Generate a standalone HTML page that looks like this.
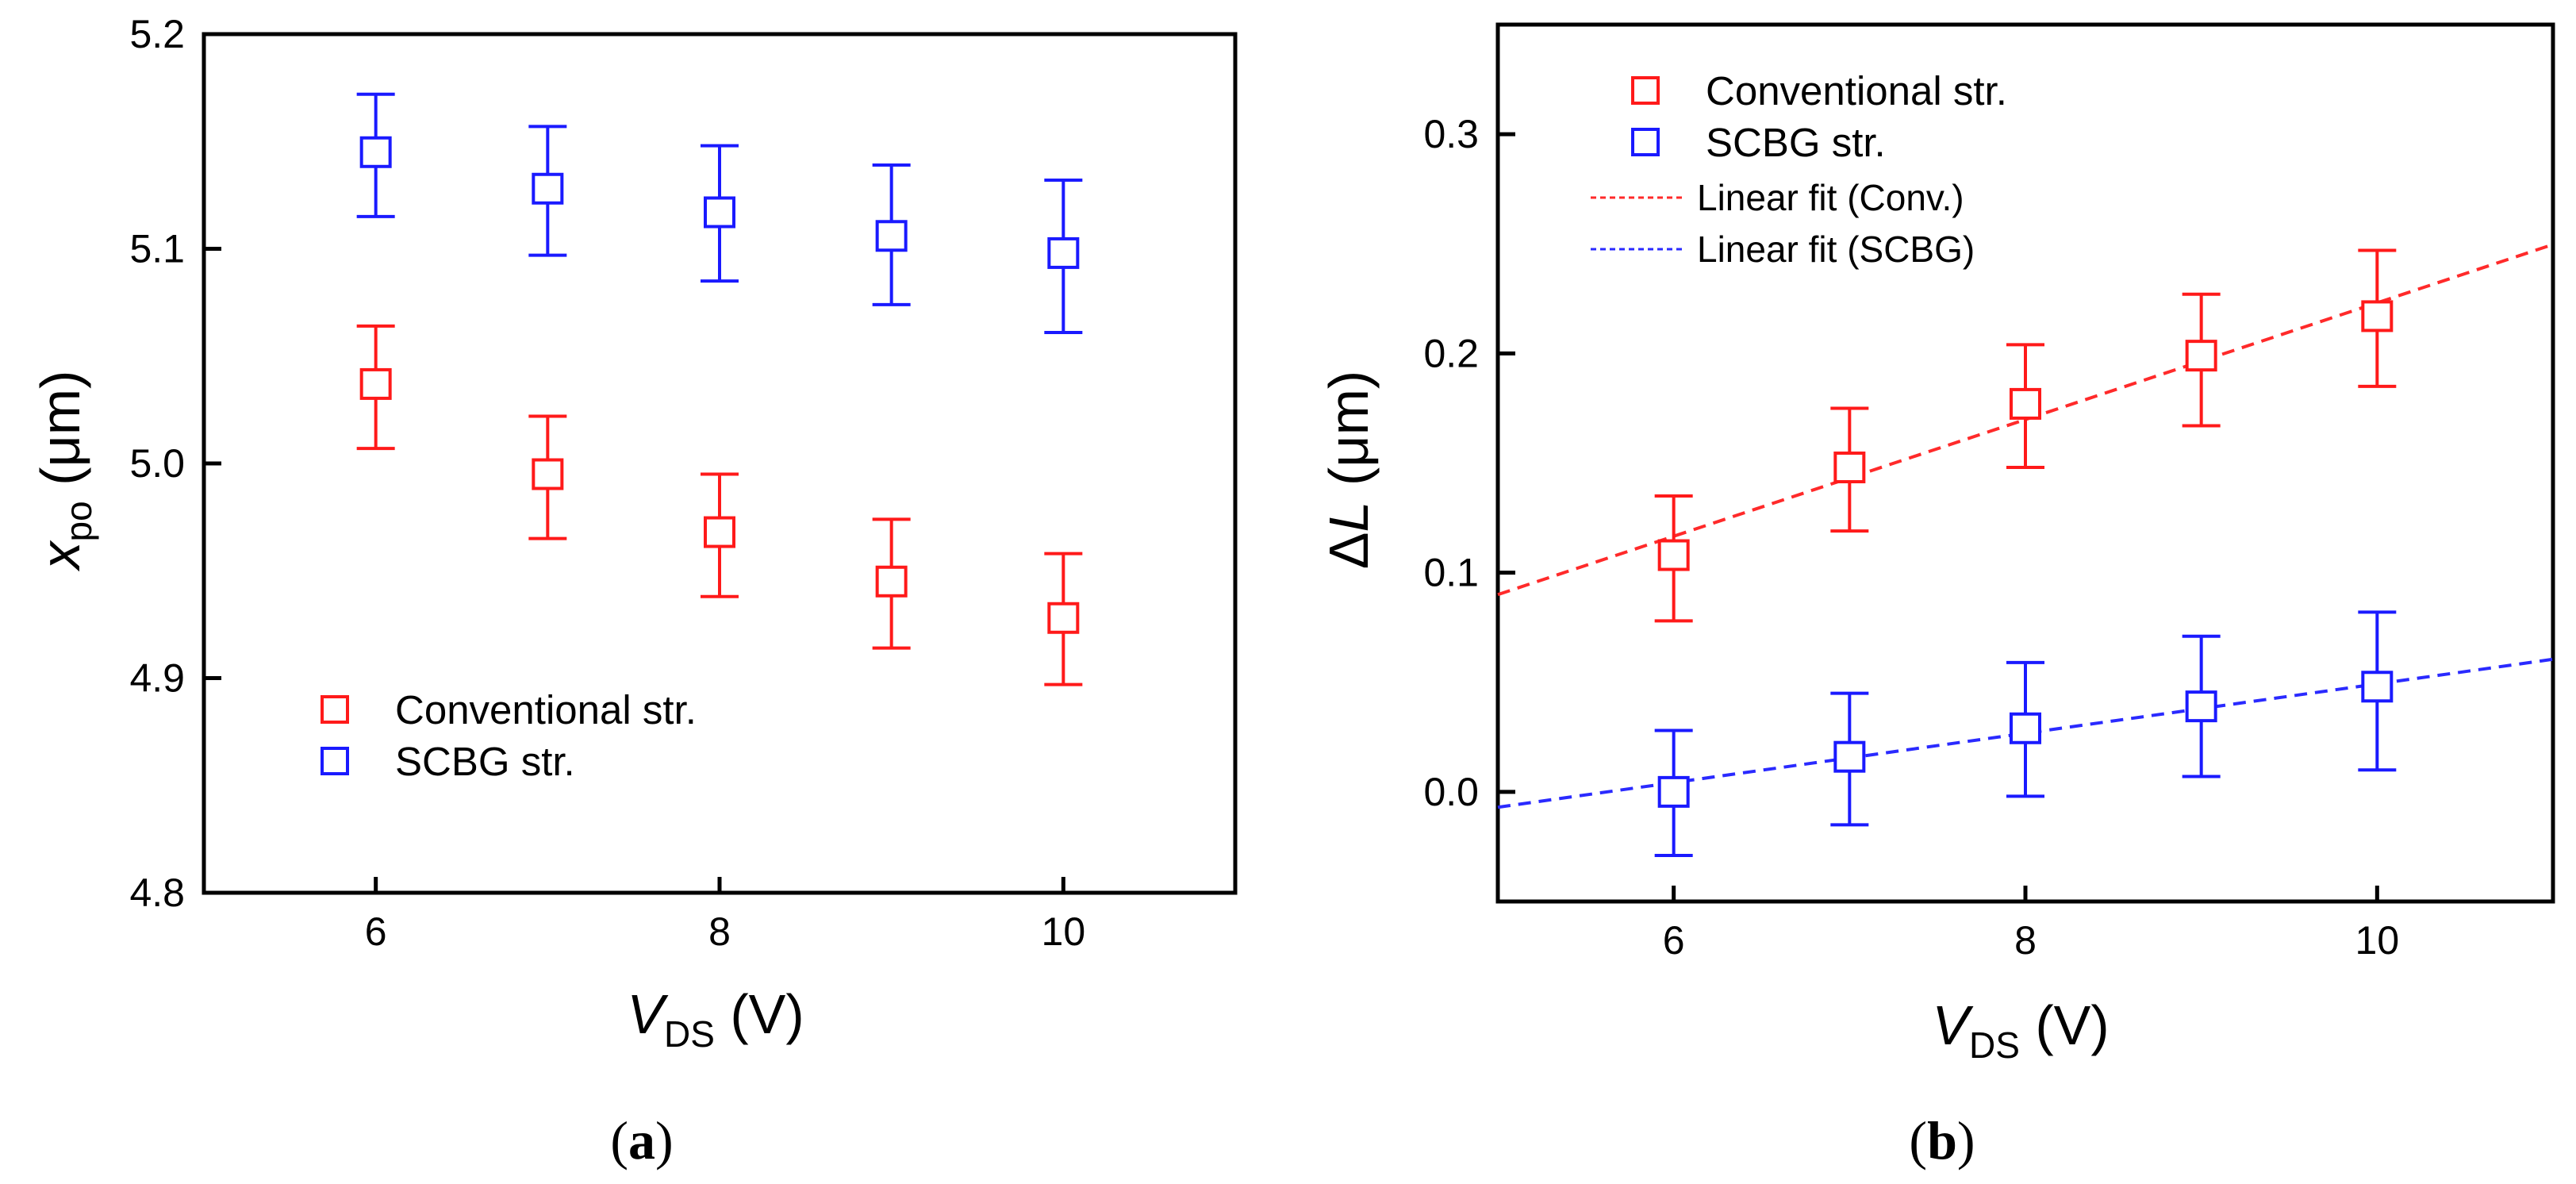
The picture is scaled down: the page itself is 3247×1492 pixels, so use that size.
<!DOCTYPE html>
<html><head><meta charset="utf-8"><style>
html,body{margin:0;padding:0;background:#fff;}
svg{display:block;font-family:"Liberation Sans",sans-serif;}
</style></head><body>
<svg id="fig" width="3247" height="1492" viewBox="0 0 3247 1492" xmlns="http://www.w3.org/2000/svg">
<g id="pa"></g>
<g id="pb"></g>
<text x="809" y="1460" font-family="Liberation Serif,serif" font-size="68" text-anchor="middle">(<tspan font-weight="bold">a</tspan>)</text>
<text x="2448" y="1460" font-family="Liberation Serif,serif" font-size="68" text-anchor="middle">(<tspan font-weight="bold">b</tspan>)</text>
</svg>
<script>
const xCats=[6,7,8,9,10];
const aConv=[5.037,4.995,4.968,4.945,4.928];
const aConvHi=[5.064,5.022,4.995,4.974,4.958];
const aConvLo=[5.007,4.965,4.938,4.914,4.897];
const aScbg=[5.145,5.128,5.117,5.106,5.098];
const aScbgHi=[5.172,5.157,5.148,5.139,5.132];
const aScbgLo=[5.115,5.097,5.085,5.074,5.061];
const aYTicks=[4.8,4.9,5.0,5.1,5.2];
const aYLabels=["4.8","4.9","5.0","5.1","5.2"];
const xTicks=[6,8,10];
const bConv=[0.108,0.148,0.177,0.199,0.217];
const bConvHi=[0.135,0.175,0.204,0.227,0.247];
const bConvLo=[0.078,0.119,0.148,0.167,0.185];
const bScbg=[0.000,0.016,0.029,0.039,0.048];
const bScbgHi=[0.028,0.045,0.059,0.071,0.082];
const bScbgLo=[-0.029,-0.015,-0.002,0.007,0.010];
const bFitConv=[0.090,0.2497];
const bFitScbg=[-0.007,0.0605];
const bFitX=[5,11];
const bYTicks=[0.0,0.1,0.2,0.3];
const bYLabels=["0.0","0.1","0.2","0.3"];
const NS="http://www.w3.org/2000/svg";
function mk(p,tag,at){const e=document.createElementNS(NS,tag);for(const k in at)e.setAttribute(k,at[k]);p.appendChild(e);return e;}
function panel(g,L,R,T,B,x0,x1,y0,y1,yT,yL){
  const sx=v=>L+(v-x0)/(x1-x0)*(R-L), sy=v=>B-(v-y0)/(y1-y0)*(B-T);
  const box=mk(g,'rect',{x:L,y:T,width:R-L,height:B-T,fill:'none',stroke:'#000','stroke-width':5});
  
  
  xTicks.forEach(v=>{
    const t=mk(g,'line',{x1:sx(v),x2:sx(v),y1:B,y2:B-20,stroke:'#000','stroke-width':5});
    
    
    const l=mk(g,'text',{x:sx(v),y:B+66,'font-size':50,'text-anchor':'middle'});l.textContent=v;
    
    
  });
  yT.forEach((v,i)=>{
    const t=mk(g,'line',{x1:L,x2:L+22,y1:sy(v),y2:sy(v),stroke:'#000','stroke-width':5});
    
    
    const l=mk(g,'text',{x:L-24,y:sy(v)+17,'font-size':50,'text-anchor':'end'});l.textContent=yL[i];
    
    
  });
  return {sx,sy};
}
function series(g,s,vals,hi,lo,col,name){
  xCats.forEach((x,i)=>{
    const X=s.sx(x);
    const e=mk(g,'path',{d:`M${X},${s.sy(hi[i])}V${s.sy(lo[i])}M${X-24},${s.sy(hi[i])}H${X+24}M${X-24},${s.sy(lo[i])}H${X+24}`,stroke:col,'stroke-width':4,fill:'none'});
    
    
    const m=mk(g,'rect',{x:X-18,y:s.sy(vals[i])-18,width:36,height:36,fill:'#fff',stroke:col,'stroke-width':4});
    
    
  });
}
function legSq(g,x,y,col,txt,fs){
  const r=mk(g,'rect',{x:x-16,y:y-16,width:32,height:32,fill:'none',stroke:col,'stroke-width':4});
  
  
  const t=mk(g,'text',{x:x+76,y:y+18,'font-size':fs});t.textContent=txt;
  
  
}
const ga=document.getElementById('pa');
const sa=panel(ga,257,1557,43,1125,5,11,4.8,5.2,aYTicks,aYLabels);
series(ga,sa,aScbg,aScbgHi,aScbgLo,'#1a1aff','scbg');
series(ga,sa,aConv,aConvHi,aConvLo,'#ff1a1a','conventional');
legSq(ga,422,894,'#ff1a1a','Conventional str.',51);
legSq(ga,422,959,'#1a1aff','SCBG str.',51);
const gb=document.getElementById('pb');
const sb=panel(gb,1888,3218,31,1136,5,11,-0.05,0.35,bYTicks,bYLabels);
const f1=mk(gb,'line',{x1:sb.sx(bFitX[0]),y1:sb.sy(bFitConv[0]),x2:sb.sx(bFitX[1]),y2:sb.sy(bFitConv[1]),stroke:'#ff2a2a','stroke-width':4,'stroke-dasharray':'16 10'});


const f2=mk(gb,'line',{x1:sb.sx(bFitX[0]),y1:sb.sy(bFitScbg[0]),x2:sb.sx(bFitX[1]),y2:sb.sy(bFitScbg[1]),stroke:'#2a2aff','stroke-width':4,'stroke-dasharray':'16 10'});


series(gb,sb,bConv,bConvHi,bConvLo,'#ff1a1a','conventional');
series(gb,sb,bScbg,bScbgHi,bScbgLo,'#1a1aff','scbg');
legSq(gb,2074,114,'#ff1a1a','Conventional str.',51);
legSq(gb,2074,179,'#1a1aff','SCBG str.',51);
[[249,'#ff2a2a','Linear fit (Conv.)'],[314,'#2a2aff','Linear fit (SCBG)']].forEach(d=>{
  const l=mk(gb,'line',{x1:2005,x2:2125,y1:d[0],y2:d[0],stroke:d[1],'stroke-width':3,'stroke-dasharray':'7 5'});
  
  
  const t=mk(gb,'text',{x:2139,y:d[0]+16,'font-size':46});t.textContent=d[2];
  
  
});
function title(g,html,x,y,rot,name){
  const t=mk(g,'text',{x:x,y:y,'font-size':70,'text-anchor':'middle',transform:rot?`rotate(-90 ${x} ${y})`:''});
  t.innerHTML=html;
  
  
}
title(ga,'<tspan font-style="italic">x</tspan><tspan font-size="46" dy="15">po</tspan><tspan dy="-15"> (μm)</tspan>',100,592,true,'y-axis-title');
title(ga,'<tspan font-style="italic">V</tspan><tspan font-size="46" dy="17">DS</tspan><tspan dy="-17"> (V)</tspan>',902,1302,false,'x-axis-title');
title(gb,'Δ<tspan font-style="italic">L</tspan> (μm)',1724,592,true,'y-axis-title');
title(gb,'<tspan font-style="italic">V</tspan><tspan font-size="46" dy="17">DS</tspan><tspan dy="-17"> (V)</tspan>',2547,1316,false,'x-axis-title');
</script>
</body></html>
